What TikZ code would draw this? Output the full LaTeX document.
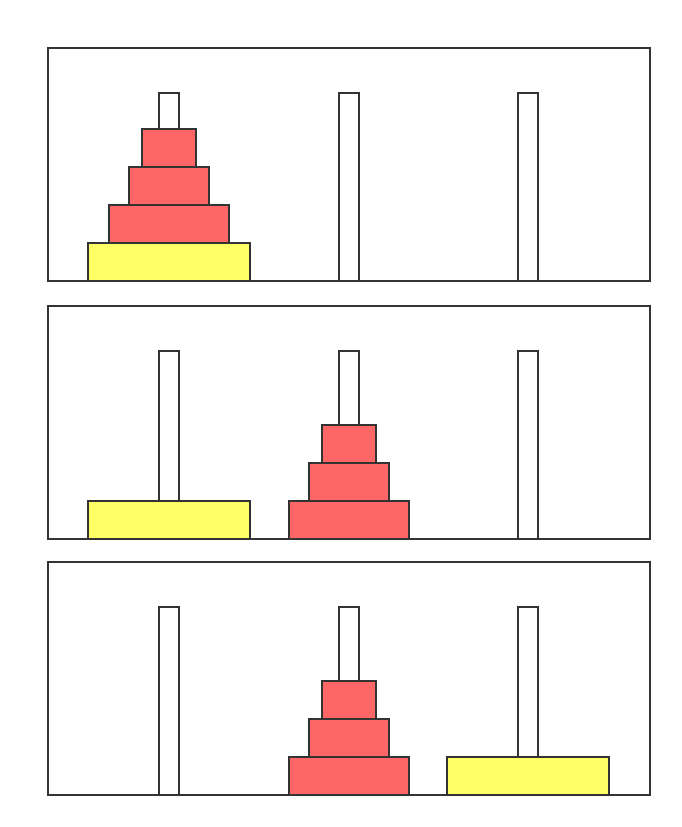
\documentclass[tikz,border=0pt]{standalone}
\begin{document}
\begin{tikzpicture}[x=1pt,y=-1pt,
  outline/.style={draw=edge,line width=2pt},
  panel/.style={outline,fill=white},
  peg/.style={outline,fill=white},
  reddisc/.style={outline,fill=discred},
  yellowdisc/.style={outline,fill=discyellow}]
\definecolor{edge}{HTML}{333333}
\definecolor{discred}{HTML}{FF6666}
\definecolor{discyellow}{HTML}{FFFF66}
\useasboundingbox (0,0) rectangle (682,827);
% panel 1
\draw[panel] (48,48) rectangle (650,281);
\draw[peg] (159,93) rectangle (179,281);
\draw[peg] (339,93) rectangle (359,281);
\draw[peg] (518,93) rectangle (538,281);
\draw[yellowdisc] (88,243) rectangle (250,281);
\draw[reddisc] (109,205) rectangle (229,243);
\draw[reddisc] (129,167) rectangle (209,205);
\draw[reddisc] (142,129) rectangle (196,167);
% panel 2
\draw[panel] (48,306) rectangle (650,539);
\draw[peg] (159,351) rectangle (179,539);
\draw[peg] (339,351) rectangle (359,539);
\draw[peg] (518,351) rectangle (538,539);
\draw[yellowdisc] (88,501) rectangle (250,539);
\draw[reddisc] (289,501) rectangle (409,539);
\draw[reddisc] (309,463) rectangle (389,501);
\draw[reddisc] (322,425) rectangle (376,463);
% panel 3
\draw[panel] (48,562) rectangle (650,795);
\draw[peg] (159,607) rectangle (179,795);
\draw[peg] (339,607) rectangle (359,795);
\draw[peg] (518,607) rectangle (538,795);
\draw[reddisc] (289,757) rectangle (409,795);
\draw[reddisc] (309,719) rectangle (389,757);
\draw[reddisc] (322,681) rectangle (376,719);
\draw[yellowdisc] (447,757) rectangle (609,795);
\end{tikzpicture}
\end{document}
